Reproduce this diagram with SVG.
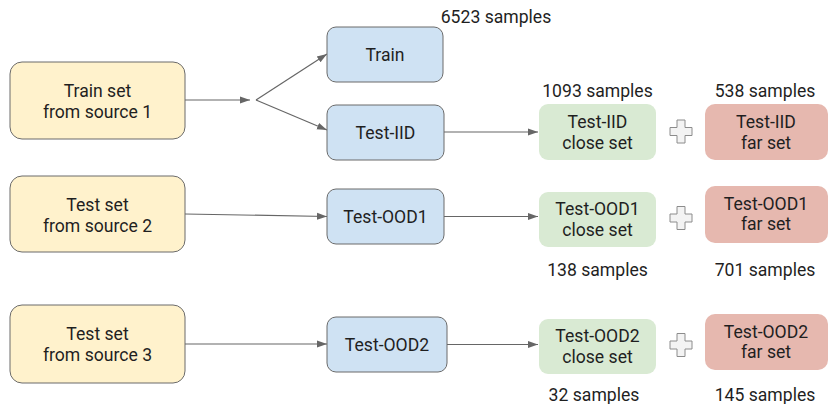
<svg xmlns="http://www.w3.org/2000/svg" width="830" height="404" viewBox="0 0 830 404">
<defs>
<style>
text{font-family:Roboto,"Liberation Sans",Arial,sans-serif;font-size:17.6px;fill:#1f1f1f;text-anchor:middle}
.src{fill:#fff2cc;stroke:#6b6b6b;stroke-width:1}
.split{fill:#cfe2f3;stroke:#6b6b6b;stroke-width:1}
.close{fill:#d9ead3}
.far{fill:#e6b8af}
.plus{fill:#f3f3f3;stroke:#8c8c8c;stroke-width:1}
.conn{stroke:#666;stroke-width:1.2;fill:none}
</style>
<marker id="ah" viewBox="0 0 10 10" refX="10" refY="5" markerWidth="10" markerHeight="10" markerUnits="userSpaceOnUse" orient="auto">
<path d="M0,1.5 L10,5 L0,8.5 Z" fill="#666"/>
</marker>
<path id="plusShape" d="M-4,-11.5 H4 V-4 H11 V4 H4 V11.5 H-4 V4 H-11 V-4 H-4 Z"/>
</defs>

<g id="connectors">
<line class="conn" x1="185" y1="100" x2="250" y2="100" marker-end="url(#ah)"/>
<line class="conn" x1="256" y1="100" x2="327" y2="54" marker-end="url(#ah)"/>
<line class="conn" x1="256" y1="100" x2="327" y2="130" marker-end="url(#ah)"/>
<line class="conn" x1="444" y1="132" x2="538" y2="132" marker-end="url(#ah)"/>
<line class="conn" x1="185" y1="214" x2="327" y2="216.5" marker-end="url(#ah)"/>
<line class="conn" x1="444" y1="216.5" x2="538" y2="216.5" marker-end="url(#ah)"/>
<line class="conn" x1="185" y1="344" x2="327" y2="344" marker-end="url(#ah)"/>
<line class="conn" x1="447" y1="344.5" x2="538" y2="344.5" marker-end="url(#ah)"/>
</g>

<g id="src1"><rect class="src" x="10" y="62" width="175" height="77" rx="12"/><text x="97.5" y="97">Train set</text><text x="97.5" y="118">from source 1</text></g>
<g id="src2"><rect class="src" x="10" y="176" width="175" height="76" rx="12"/><text x="97.5" y="211">Test set</text><text x="97.5" y="232">from source 2</text></g>
<g id="src3"><rect class="src" x="10" y="305" width="175" height="78" rx="12"/><text x="97.5" y="340">Test set</text><text x="97.5" y="361">from source 3</text></g>

<g id="train"><rect class="split" x="327" y="27" width="116" height="55" rx="9"/><text x="385" y="61">Train</text></g>
<g id="testiid"><rect class="split" x="327" y="105" width="117" height="55" rx="9"/><text x="385.5" y="139">Test-IID</text></g>
<g id="testood1"><rect class="split" x="327" y="189" width="117" height="55" rx="9"/><text x="385.5" y="223">Test-OOD1</text></g>
<g id="testood2"><rect class="split" x="327" y="317" width="120" height="55" rx="9"/><text x="387" y="351">Test-OOD2</text></g>

<g id="iidclose"><rect class="close" x="539" y="104" width="117" height="56" rx="9"/><text x="597.5" y="128">Test-IID</text><text x="597.5" y="148.5">close set</text></g>
<g id="ood1close"><rect class="close" x="539" y="192" width="117" height="55" rx="9"/><text x="597.5" y="215">Test-OOD1</text><text x="597.5" y="235.5">close set</text></g>
<g id="ood2close"><rect class="close" x="539" y="319" width="117" height="55" rx="9"/><text x="597.5" y="342">Test-OOD2</text><text x="597.5" y="362.5">close set</text></g>

<g id="iidfar"><rect class="far" x="705" y="104" width="123" height="56" rx="10"/><text x="766" y="128">Test-IID</text><text x="766" y="148.5">far set</text></g>
<g id="ood1far"><rect class="far" x="705" y="186" width="123" height="57" rx="10"/><text x="766" y="209.5">Test-OOD1</text><text x="766" y="230">far set</text></g>
<g id="ood2far"><rect class="far" x="705" y="314" width="123" height="56" rx="10"/><text x="766" y="337.5">Test-OOD2</text><text x="766" y="358">far set</text></g>

<g id="plus1"><use href="#plusShape" class="plus" x="681" y="131.5"/></g>
<g id="plus2"><use href="#plusShape" class="plus" x="681" y="218"/></g>
<g id="plus3"><use href="#plusShape" class="plus" x="681" y="345"/></g>

<g id="labels">
<text x="496" y="23">6523 samples</text>
<text x="597.5" y="97">1093 samples</text>
<text x="765" y="97">538 samples</text>
<text x="597.5" y="276">138 samples</text>
<text x="765" y="276">701 samples</text>
<text x="594" y="401">32 samples</text>
<text x="765" y="401">145 samples</text>
</g>
</svg>
